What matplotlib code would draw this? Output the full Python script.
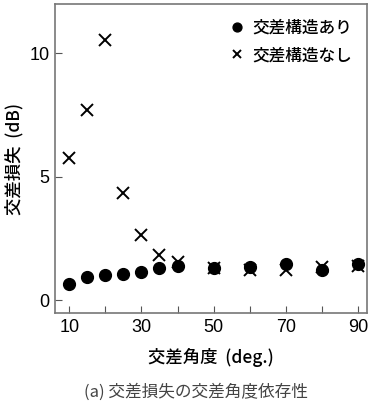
import matplotlib.pyplot as plt

plt.rcParams['font.family'] = ['Liberation Sans', 'Noto Sans CJK JP', 'DejaVu Sans']

# 交差角度 (deg.)
angles = [10, 15, 20, 25, 30, 35, 40, 50, 60, 70, 80, 90]
# 交差構造あり
with_cross = [0.65, 0.93, 1.0, 1.05, 1.13, 1.3, 1.38, 1.3, 1.33, 1.45, 1.22, 1.45]
# 交差構造なし
without_cross = [5.75, 7.7, 10.55, 4.33, 2.63, 1.82, 1.54, 1.3, 1.2, 1.2, 1.35, 1.4]

jp = ['Noto Sans CJK JP', 'DejaVu Sans']

fig = plt.figure(figsize=(3.7, 4.03), dpi=100)
ax = fig.add_axes([0.149, 0.223, 0.843, 0.767])

ax.plot(angles, with_cross, 'o', color='black', markersize=8.5, label='交差構造あり')
ax.plot(angles, without_cross, 'x', color='black', markersize=8, markeredgewidth=1.4,
        label='交差構造なし')

ax.set_xlim(6.1, 92.5)
ax.set_ylim(-0.53, 12.0)
ax.set_xticks([10, 20, 30, 40, 50, 60, 70, 80, 90])
ax.set_xticklabels(['10', '', '30', '', '50', '', '70', '', '90'])
ax.set_yticks([0, 5, 10])
ax.tick_params(direction='in', length=5, labelsize=13, color='#555555', pad=4)

for s in ax.spines.values():
    s.set_color('#777777')
    s.set_linewidth(1.2)

ax.set_ylabel('交差損失  (dB)', fontsize=12.5, labelpad=4, family=jp, fontweight='medium')
ax.set_xlabel('交差角度  (deg.)', fontsize=12.5, labelpad=9, family=jp, fontweight='medium')

leg = ax.legend(loc='upper right', frameon=False, handletextpad=0.3, markerscale=0.75,
                borderaxespad=0.5, labelspacing=0.55, handlelength=1.2,
                prop={'family': jp, 'size': 12, 'weight': 'medium'})

fig.text(0.53, 0.006, '(a) 交差損失の交差角度依存性', ha='center', va='bottom', fontsize=12,
         color='#444444', family=jp)

fig.savefig('out.png', dpi=100)
